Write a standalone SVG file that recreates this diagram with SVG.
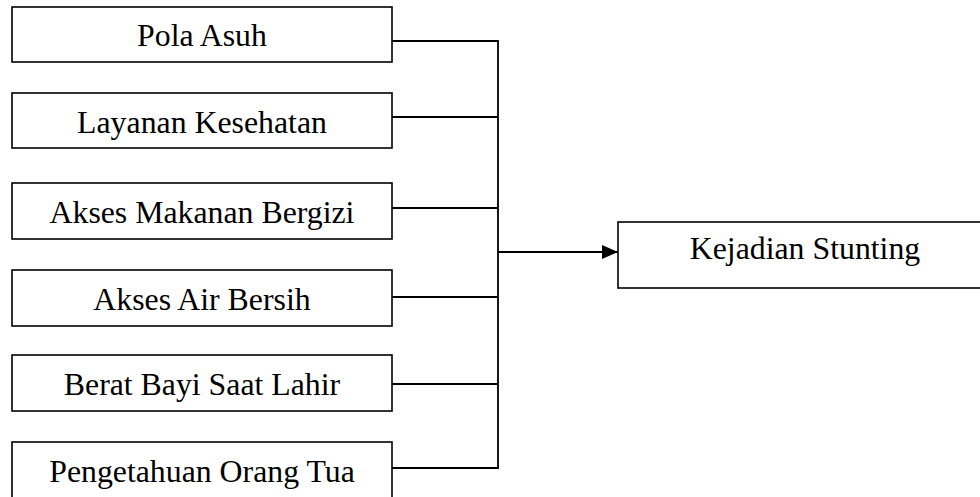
<svg xmlns="http://www.w3.org/2000/svg" width="980" height="497" viewBox="0 0 980 497">
<style>
.box{fill:#fff;stroke:#000;stroke-width:1.6}
.lbl{font-family:"Liberation Serif","Times New Roman",serif;font-size:31.8px;fill:#000;text-anchor:middle}
.ln{fill:none;stroke:#000;stroke-width:1.8}
</style>
<defs>
<marker id="ah" markerWidth="18" markerHeight="16" refX="16" refY="8" orient="auto" markerUnits="userSpaceOnUse">
<path d="M0,1 L16,8 L0,15 Z" fill="#000"/>
</marker>
</defs>
<rect width="980" height="497" fill="#fff"/>
<g id="n1"><rect class="box" x="12" y="7" width="380" height="55"/><text class="lbl" x="202" y="46">Pola Asuh</text></g>
<g id="n2"><rect class="box" x="12" y="93" width="380" height="55"/><text class="lbl" x="202" y="133">Layanan Kesehatan</text></g>
<g id="n3"><rect class="box" x="12" y="183" width="380" height="56"/><text class="lbl" x="202" y="223">Akses Makanan Bergizi</text></g>
<g id="n4"><rect class="box" x="12" y="270" width="380" height="56"/><text class="lbl" x="202" y="310">Akses Air Bersih</text></g>
<g id="n5"><rect class="box" x="12" y="355" width="380" height="56"/><text class="lbl" x="202" y="395">Berat Bayi Saat Lahir</text></g>
<g id="n6"><rect class="box" x="12" y="442" width="380" height="70"/><text class="lbl" x="202" y="482">Pengetahuan Orang Tua</text></g>
<g id="n7"><rect class="box" x="618" y="222" width="374" height="66"/><text class="lbl" x="805" y="259">Kejadian Stunting</text></g>
<g id="connectors">
<path class="ln" d="M392,41 H498 M392,117 H498 M392,208 H498 M392,297 H498 M392,384 H498 M392,468 H498 M498,40.1 V468.9"/>
<path class="ln" d="M498,252 H618" marker-end="url(#ah)"/>
</g>
</svg>
